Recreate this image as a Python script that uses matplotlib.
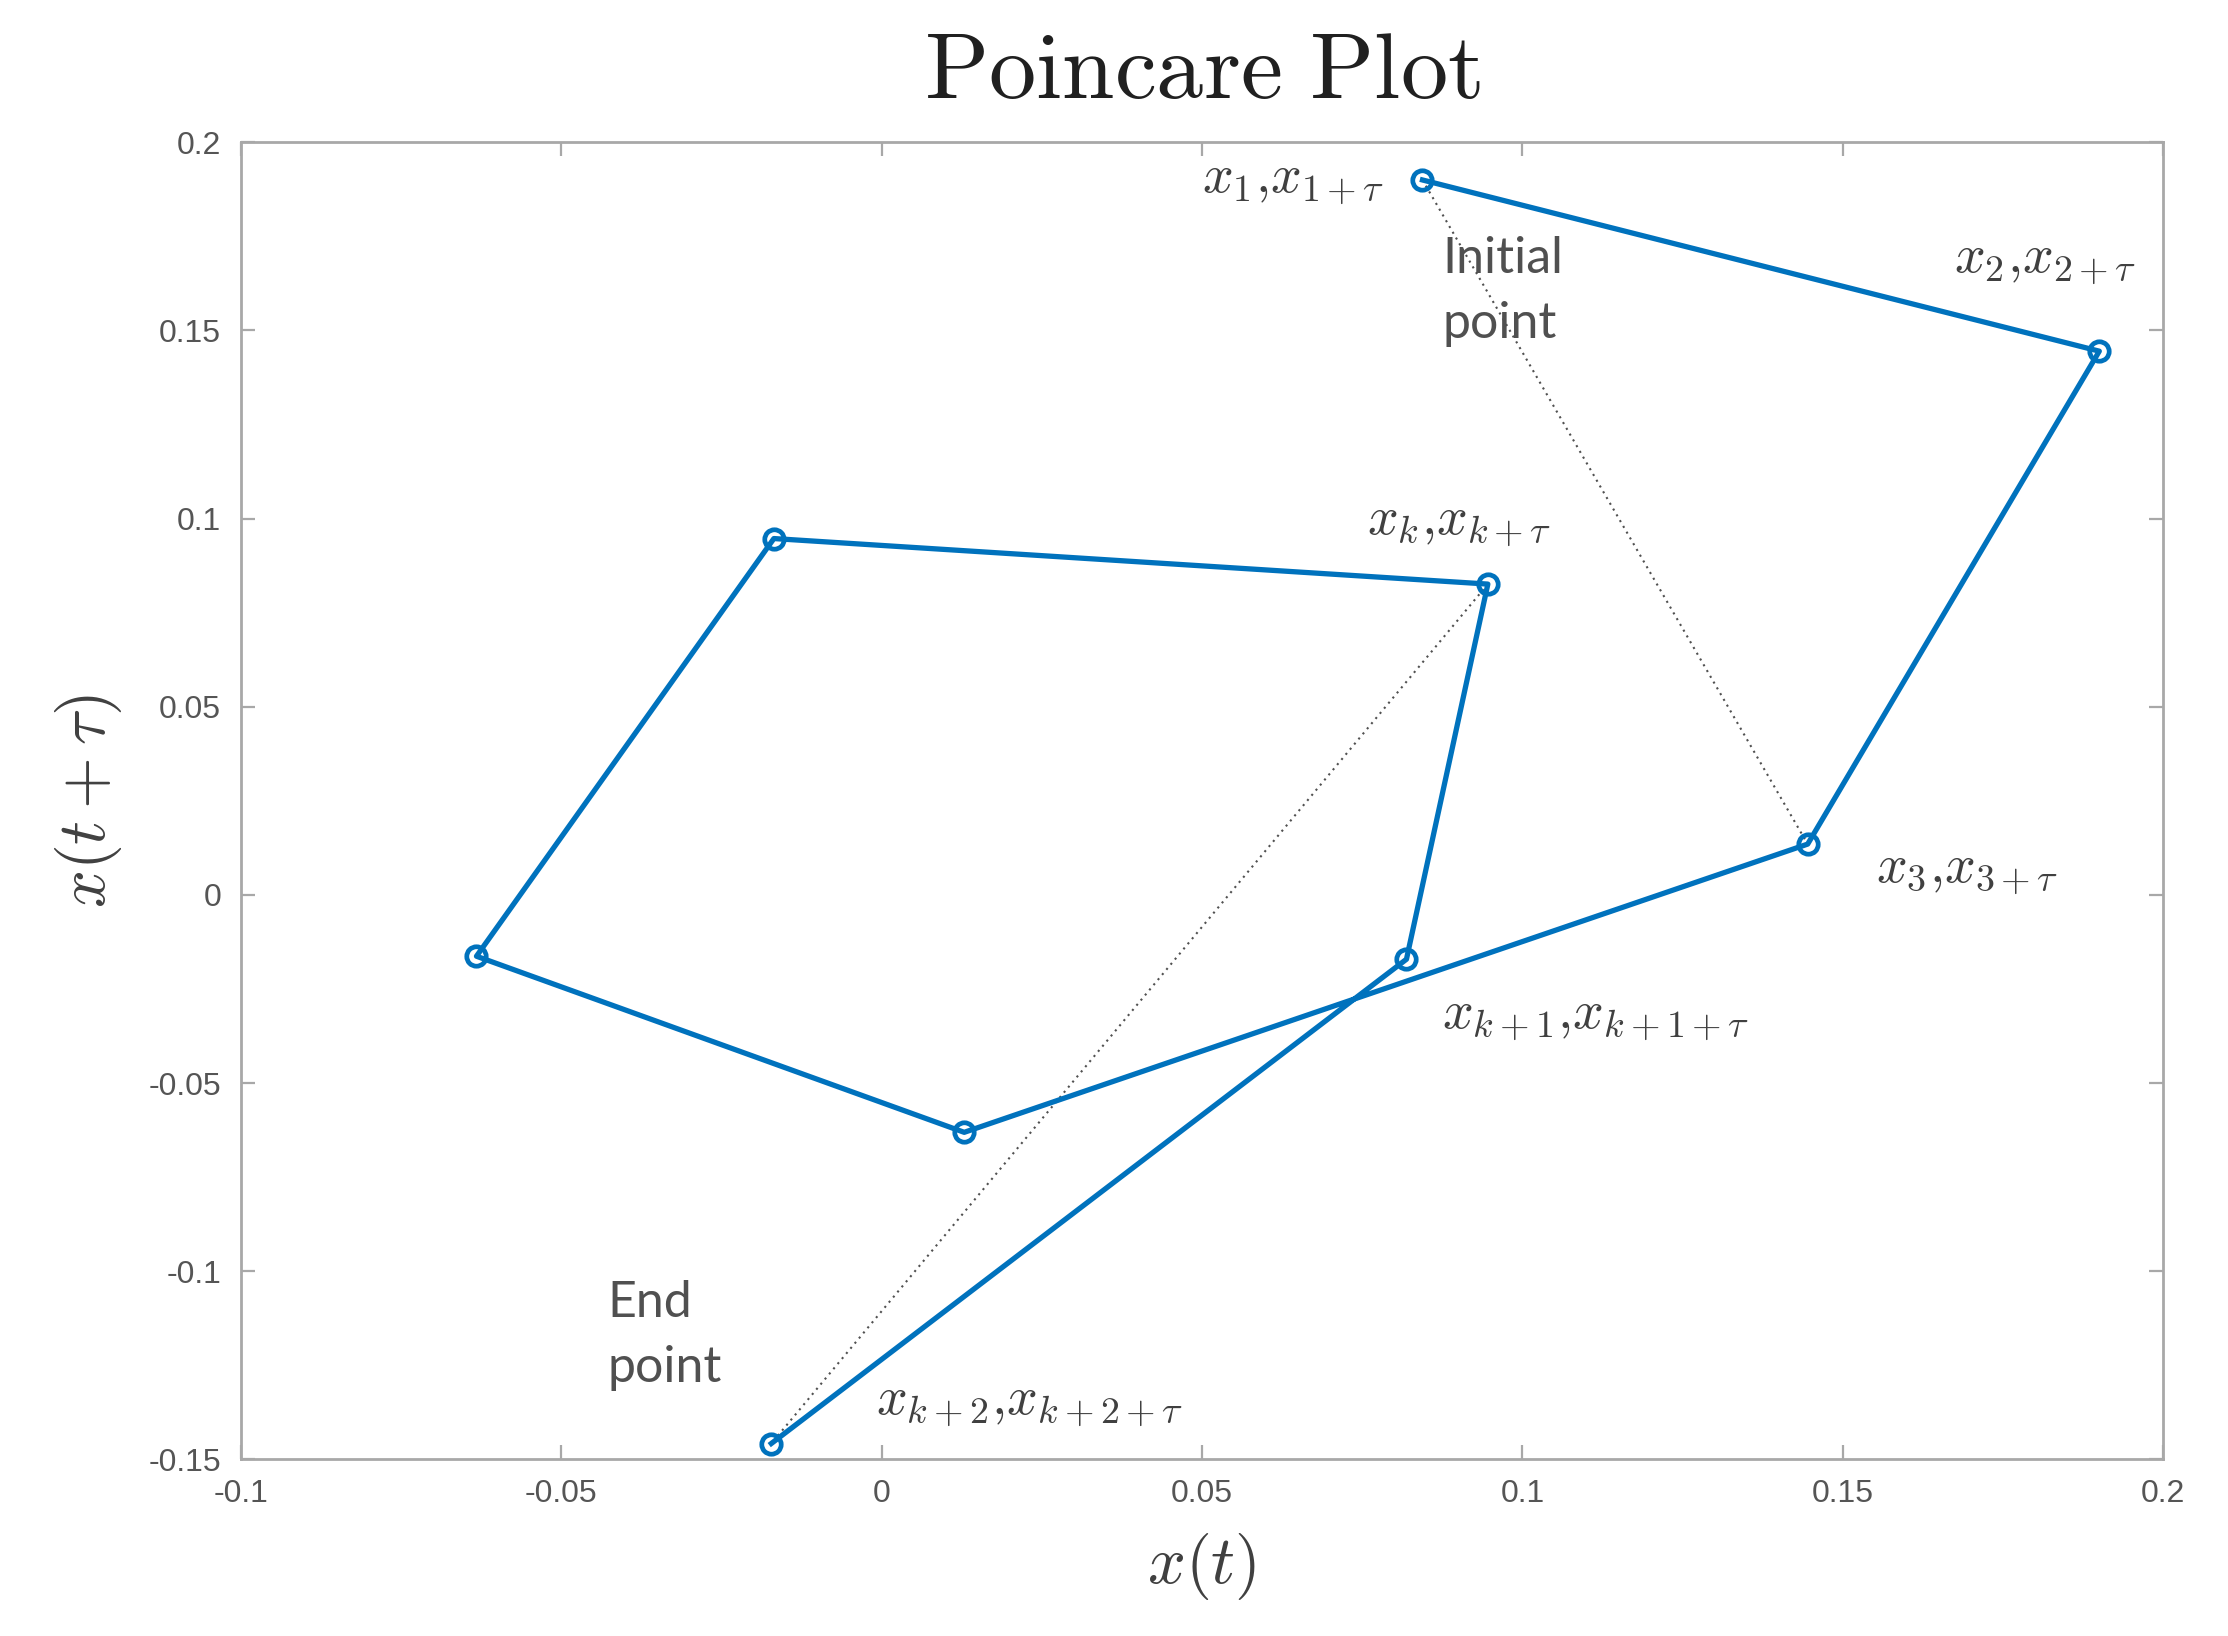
import matplotlib

matplotlib.use("Agg")
import matplotlib.pyplot as plt  # noqa: E402
from matplotlib.ticker import FuncFormatter  # noqa: E402

# trajectory points in delay space, in visiting order
xt = [0.0844, 0.1900, 0.1445, 0.0129, -0.0632, -0.0168, 0.0946, 0.0819, -0.0172]
xt_tau = [0.1900, 0.1445, 0.0135, -0.0631, -0.0163, 0.0947, 0.0826, -0.0171, -0.1458]

# dotted guide segments (start index, end index)
guides = [(0, 2), (6, 8)]

point_labels = [
    r"$x_1{,}x_{1+\tau}$",
    r"$x_2{,}x_{2+\tau}$",
    r"$x_k{,}x_{k+\tau}$",
    r"$x_3{,}x_{3+\tau}$",
    r"$x_{k+1}{,}x_{k+1+\tau}$",
    r"$x_{k+2}{,}x_{k+2+\tau}$",
]
note_labels = ["Initial\npoint", "End\npoint"]

x_ticks = [-0.1, -0.05, 0, 0.05, 0.1, 0.15, 0.2]
y_ticks = [-0.15, -0.1, -0.05, 0, 0.05, 0.1, 0.15, 0.2]

plt.rcParams["mathtext.fontset"] = "cm"
plt.rcParams["axes.unicode_minus"] = False

BLUE = "#0072BD"
GREY = "#a8a8a8"
TXT = "#404040"

fig = plt.figure(figsize=(11.14, 8.18), dpi=200)
ax = fig.add_axes([0.108, 0.108, 0.863, 0.805])

for i, j in guides:
    ax.plot([xt[i], xt[j]], [xt_tau[i], xt_tau[j]], ls=(0, (1, 2.2)),
            color="#505050", lw=0.75, zorder=2)
ax.plot(xt, xt_tau, color=BLUE, lw=1.9, marker="o", ms=7,
        mfc="none", mec=BLUE, mew=1.7, zorder=3)

ax.set_xlim(-0.1, 0.2)
ax.set_ylim(-0.15, 0.2)
ax.set_xticks(x_ticks)
ax.set_yticks(y_ticks)
ax.xaxis.set_major_formatter(FuncFormatter(lambda v, p: "%g" % v))
ax.yaxis.set_major_formatter(FuncFormatter(lambda v, p: "%g" % v))
ax.tick_params(direction="in", length=5, width=0.8, color=GREY,
               labelsize=11.5, labelcolor="#555555", top=True, right=True,
               pad=7)
for lab in ax.get_xticklabels() + ax.get_yticklabels():
    lab.set_family(["Liberation Sans", "DejaVu Sans"])
for s in ax.spines.values():
    s.set_color(GREY)
    s.set_linewidth(1.0)

ax.set_xlabel(r"$x(t)$", fontsize=24, color=TXT, labelpad=8)
ax.set_ylabel(r"$x(t+\tau)$", fontsize=24, color=TXT, labelpad=9)
ax.set_title(r"$\mathrm{Poincare\ Plot}$", fontsize=34, color="#202020", pad=16)

lab_kw = dict(fontsize=19.5, color=TXT, va="center")
ax.text(0.0785, 0.190, point_labels[0], ha="right", **lab_kw)
ax.text(0.1674, 0.1687, point_labels[1], ha="left", **lab_kw)
ax.text(0.0757, 0.0992, point_labels[2], ha="left", **lab_kw)
ax.text(0.1552, 0.0067, point_labels[3], ha="left", **lab_kw)
ax.text(0.0875, -0.0322, point_labels[4], ha="left", **lab_kw)
ax.text(-0.0008, -0.1348, point_labels[5], ha="left", **lab_kw)

note_kw = dict(fontsize=18, color="#505050", family=["Lato", "DejaVu Sans"],
               ha="left", va="top", linespacing=1.5)
ax.text(0.0875, 0.1750, note_labels[0], **note_kw)
ax.text(-0.0428, -0.1024, note_labels[1], **note_kw)

fig.savefig("out.png", dpi=200, facecolor="white")
plt.close(fig)
